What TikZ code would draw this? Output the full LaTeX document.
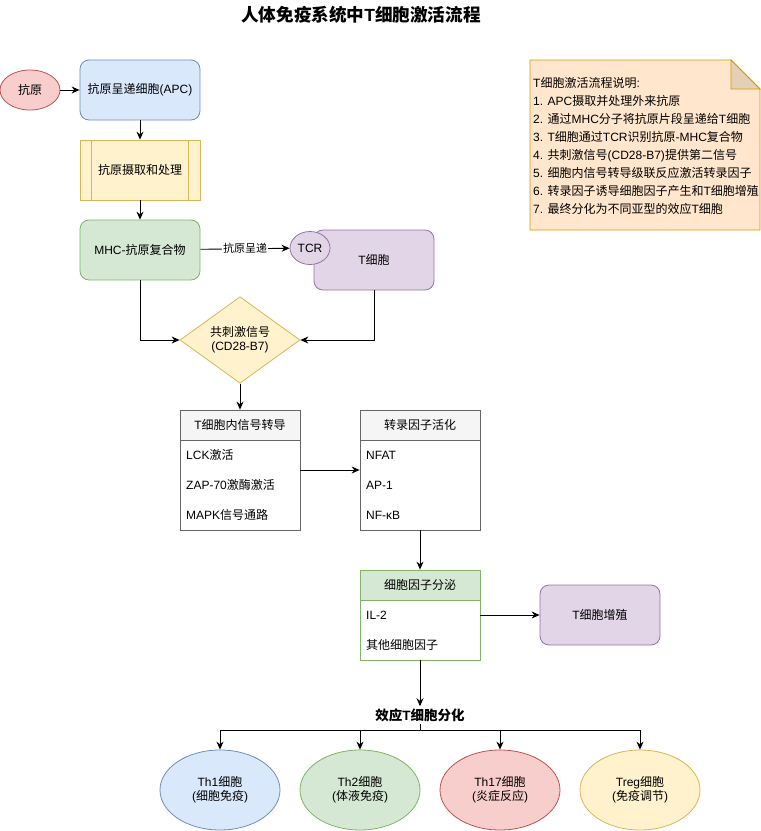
\documentclass[tikz,border=0pt]{standalone}
\usepackage{fontspec}
\setmainfont{Liberation Sans}
\newfontfamily\cjkfam{Noto Sans CJK SC}
\usetikzlibrary{shapes.geometric,arrows.meta}
\XeTeXinterchartokenstate=1
\newXeTeXintercharclass\cjkcls
\count255="4E00
\loop \XeTeXcharclass\count255=\cjkcls \ifnum\count255<"9FFF \advance\count255 by 1 \repeat
\XeTeXinterchartoks 0 \cjkcls = {\cjkfam}
\XeTeXinterchartoks 4095 \cjkcls = {\cjkfam}
\XeTeXinterchartoks \cjkcls 0 = {\rmfamily}
\XeTeXinterchartoks 4095 0 = {\rmfamily}
\definecolor{redF}{HTML}{F8CECC}\definecolor{redS}{HTML}{B85450}
\definecolor{bluF}{HTML}{DAE8FC}\definecolor{bluS}{HTML}{6C8EBF}
\definecolor{yelF}{HTML}{FFF2CC}\definecolor{yelS}{HTML}{D6B656}
\definecolor{grnF}{HTML}{D5E8D4}\definecolor{grnS}{HTML}{82B366}
\definecolor{purF}{HTML}{E1D5E7}\definecolor{purS}{HTML}{9673A6}
\definecolor{gryF}{HTML}{F5F5F5}\definecolor{gryS}{HTML}{666666}
\definecolor{notF}{HTML}{FFE6CC}\definecolor{notS}{HTML}{D79B00}
\begin{document}
\begin{tikzpicture}[x=1pt,y=-1pt,font=\fontsize{12}{14}\selectfont,
  arr/.style={-{Stealth[length=8pt,width=7pt]},line width=0.9pt},
  box/.style={draw,line width=0.8pt,minimum width=120pt,minimum height=60pt,inner sep=0pt,align=center},
  rbox/.style={box,rounded corners=9pt},
  ell/.style={ellipse,draw,line width=0.8pt,inner sep=0pt,align=center},
  lane/.style={draw=#1,line width=0.8pt,fill=white,minimum width=120pt,inner sep=0pt},
  lanehead/.style={draw=#1,line width=0.8pt,minimum width=120pt,minimum height=30pt,inner sep=0pt,anchor=north},
  item/.style={anchor=west,inner sep=0pt}]
\useasboundingbox (0,0) rectangle (761,831);
\node[font=\bfseries\fontsize{17.6}{20}\selectfont] (title) at (361,15) {人体免疫系统中T细胞激活流程};
% left column
\node[ell,draw=redS,fill=redF,minimum width=60pt,minimum height=40pt] (ag) at (30,90) {抗原};
\node[rbox,draw=bluS,fill=bluF] (apc) at (140,90) {抗原呈递细胞(APC)};
\node[box,draw=yelS,fill=yelF] (proc) at (140,170) {抗原摄取和处理};
\draw[yelS,line width=0.8pt] ([xshift=12pt]proc.north west) -- ([xshift=12pt]proc.south west);
\draw[yelS,line width=0.8pt] ([xshift=-12pt]proc.north east) -- ([xshift=-12pt]proc.south east);
\node[rbox,draw=grnS,fill=grnF] (mhc) at (140,250) {MHC-抗原复合物};
\node[rbox,draw=purS,fill=purF] (tcell) at (374,260) {T细胞};
\node[ell,draw=purS,fill=purF,minimum width=40pt,minimum height=33pt] (tcr) at (310,248) {TCR};
\node[diamond,draw=yelS,fill=yelF,line width=0.8pt,minimum width=120pt,minimum height=80pt,inner sep=0pt,align=center] (cs) at (240,340) {共刺激信号\\(CD28-B7)};
\draw[arr] (ag) -- (apc);
\draw[arr] (apc) -- (proc);
\draw[arr] (proc) -- (mhc);
\draw[arr] (mhc) -- node[fill=white,inner sep=1pt,font=\fontsize{11}{13}\selectfont] {抗原呈递} (tcr);
\draw[arr] (mhc.south) |- (cs.west);
\draw[arr] (tcell.south) |- (cs.east);
% swimlane 1
\node[lane=gryS,minimum height=120pt] (sl1) at (240,470) {};
\node[lanehead=gryS,fill=gryF] (sl1h) at (sl1.north) {T细胞内信号转导};
\node[item] (sl1a) at (186,455) {LCK激活};
\node[item] (sl1b) at (186,485) {ZAP-70激酶激活};
\node[item] (sl1c) at (186,515) {MAPK信号通路};
% swimlane 2
\node[lane=gryS,minimum height=120pt] (sl2) at (420,470) {};
\node[lanehead=gryS,fill=gryF] (sl2h) at (sl2.north) {转录因子活化};
\node[item] (sl2a) at (366,455) {NFAT};
\node[item] (sl2b) at (366,485) {AP-1};
\node[item] (sl2c) at (366,515) {NF-κB};
% swimlane 3
\node[lane=grnS,minimum height=90pt] (sl3) at (420,615) {};
\node[lanehead=grnS,fill=grnF] (sl3h) at (sl3.north) {细胞因子分泌};
\node[item] (sl3a) at (366,615) {IL-2};
\node[item] (sl3b) at (366,645) {其他细胞因子};
\node[rbox,draw=purS,fill=purF] (prolif) at (600,615) {T细胞增殖};
\draw[arr] (cs.south) -- (sl1.north);
\draw[arr] (sl1.east) -- (sl2.west);
\draw[arr] (sl2.south) -- (sl3.north);
\draw[arr] (sl3.east) -- (prolif.west);
% effector
\node[font=\bfseries\fontsize{13.5}{15}\selectfont,inner sep=2pt] (eff) at (420,715) {效应T细胞分化};
\draw[arr] (sl3.south) -- (eff.north);
\coordinate (bus) at (420,730);
\node[ell,draw=bluS,fill=bluF,minimum width=120pt,minimum height=80pt] (th1) at (220,790) {Th1细胞\\(细胞免疫)};
\node[ell,draw=grnS,fill=grnF,minimum width=120pt,minimum height=80pt] (th2) at (360,790) {Th2细胞\\(体液免疫)};
\node[ell,draw=redS,fill=redF,minimum width=120pt,minimum height=80pt] (th17) at (500,790) {Th17细胞\\(炎症反应)};
\node[ell,draw=yelS,fill=yelF,minimum width=120pt,minimum height=80pt] (treg) at (640,790) {Treg细胞\\(免疫调节)};
\draw[line width=0.9pt] (eff.south) -- (bus);
\draw[arr] (bus) -| (th1.north);
\draw[arr] (bus) -| (th2.north);
\draw[arr] (bus) -| (th17.north);
\draw[arr] (bus) -| (treg.north);
% note
\draw[draw=notS,fill=notF,line width=0.8pt] (530,60) -- (731,60) -- (760,89) -- (760,230) -- (530,230) -- cycle;
\draw[draw=notS,fill=notF!90!black,line width=0.8pt] (731,60) -- (731,89) -- (760,89) -- cycle;
\node[anchor=west,align=left,inner sep=0pt,font=\fontsize{12}{18}\selectfont] (note) at (533,146) {T细胞激活流程说明:\\1. APC摄取并处理外来抗原\\2. 通过MHC分子将抗原片段呈递给T细胞\\3. T细胞通过TCR识别抗原-MHC复合物\\4. 共刺激信号(CD28-B7)提供第二信号\\5. 细胞内信号转导级联反应激活转录因子\\6. 转录因子诱导细胞因子产生和T细胞增殖\\7. 最终分化为不同亚型的效应T细胞};
\end{tikzpicture}
\end{document}
